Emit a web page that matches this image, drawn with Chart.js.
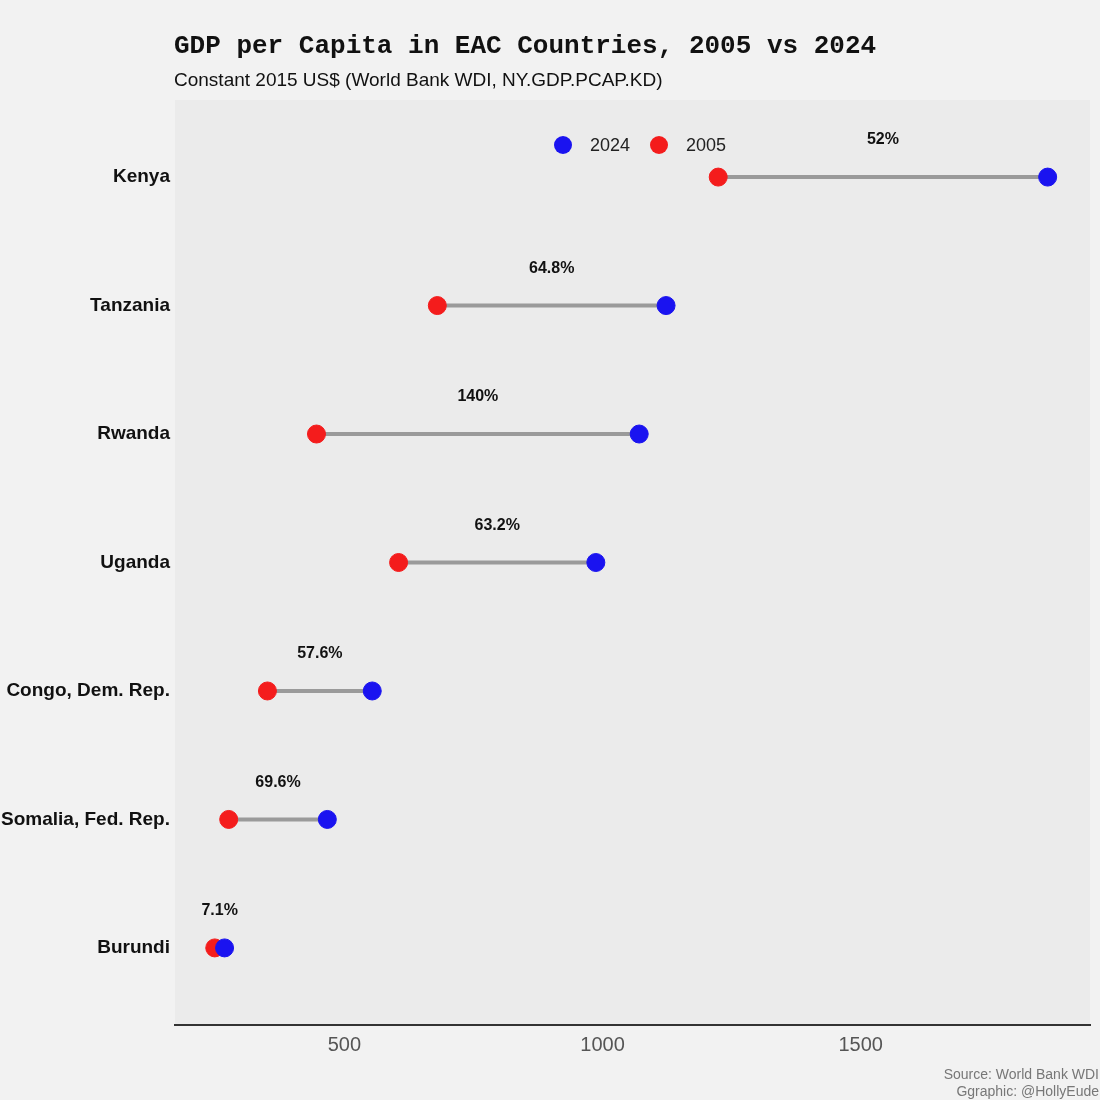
<!DOCTYPE html>
<html>
<head>
<meta charset="utf-8">
<script src="https://cdn.jsdelivr.net/npm/chart.js@4"></script>
<style>
  html, body { margin: 0; padding: 0; background: #f2f2f2; }
</style>
</head>
<body>
<canvas id="chart" width="1100" height="1100"></canvas>
<script>
const countries = ["Kenya", "Tanzania", "Rwanda", "Uganda", "Congo, Dem. Rep.", "Somalia, Fed. Rep.", "Burundi"];
const gdp2005 = [1224, 680, 446, 605, 351, 276, 249];
const gdp2024 = [1862, 1123, 1071, 987, 554, 467, 268];
const growthLabels = ["52%", "64.8%", "140%", "63.2%", "57.6%", "69.6%", "7.1%"];
const xTicks = [500, 1000, 1500];

const RED = "#f41c1c", BLUE = "#1a13f0";

// one grey segment per country
const segments = countries.map((c, i) => ({
  type: "line",
  data: [{ x: gdp2005[i], y: i }, { x: gdp2024[i], y: i }],
  borderColor: "#9a9a9a",
  borderWidth: 4,
  pointRadius: 0,
  order: 3
}));

const decor = {
  id: "decor",
  beforeDraw(chart) {
    const { ctx, chartArea: a } = chart;
    ctx.save();
    ctx.fillStyle = "#f2f2f2";
    ctx.fillRect(0, 0, chart.width, chart.height);
    ctx.fillStyle = "#ebebeb";
    ctx.fillRect(a.left, a.top, a.right - a.left, a.bottom - a.top);
    ctx.restore();
  },
  afterDatasetsDraw(chart) {
    const { ctx, scales: { x, y } } = chart;
    ctx.save();
    // growth labels above the segment midpoint
    ctx.fillStyle = "#111";
    ctx.font = "bold 16px 'Liberation Sans', Arial";
    ctx.textAlign = "center";
    ctx.textBaseline = "middle";
    countries.forEach((c, i) => {
      const mid = (gdp2005[i] + gdp2024[i]) / 2;
      ctx.fillText(growthLabels[i], x.getPixelForValue(mid), y.getPixelForValue(i) - 37);
    });
    // legend
    ctx.font = "18px 'Liberation Sans', Arial";
    ctx.textAlign = "left";
    [[BLUE, "2024", 563], [RED, "2005", 659]].forEach(([col, txt, px]) => {
      ctx.fillStyle = col;
      ctx.beginPath(); ctx.arc(px, 145, 9, 0, Math.PI * 2); ctx.fill();
      ctx.fillStyle = "#222";
      ctx.fillText(txt, px + 27, 146);
    });
    // titles
    ctx.fillStyle = "#111";
    ctx.font = "bold 26px 'Liberation Mono', 'DejaVu Sans Mono', monospace";
    ctx.fillText("GDP per Capita in EAC Countries, 2005 vs 2024", 174, 46);
    ctx.font = "19px 'Liberation Sans', Arial";
    ctx.fillText("Constant 2015 US$ (World Bank WDI, NY.GDP.PCAP.KD)", 174, 81);
    ctx.fillStyle = "#777";
    ctx.font = "14px 'Liberation Sans', Arial";
    ctx.textAlign = "right";
    ctx.fillText("Source: World Bank WDI", 1099, 1075);
    ctx.fillText("Ggraphic: @HollyEude", 1099, 1092);
    ctx.restore();
  }
};

new Chart(document.getElementById("chart"), {
  data: {
    datasets: [
      ...segments,
      {
        type: "scatter", label: "2005",
        data: countries.map((c, i) => ({ x: gdp2005[i], y: i })),
        backgroundColor: RED, borderColor: RED, pointRadius: 9, pointHoverRadius: 9, order: 2
      },
      {
        type: "scatter", label: "2024",
        data: countries.map((c, i) => ({ x: gdp2024[i], y: i })),
        backgroundColor: BLUE, borderColor: BLUE, pointRadius: 9, pointHoverRadius: 9, order: 1
      }
    ]
  },
  plugins: [decor],
  options: {
    responsive: false,
    devicePixelRatio: 1,
    animation: false,
    layout: { padding: { top: 100, right: -10, left: 0, bottom: 0 } },
    plugins: { legend: { display: false }, tooltip: { enabled: false } },
    scales: {
      x: {
        type: "linear", min: 172, max: 1944,
        afterBuildTicks: (s) => { s.ticks = xTicks.map(v => ({ value: v })); },
        afterFit: (s) => { s.height = 75; },
        grid: { display: false, drawTicks: false },
        border: { display: true, color: "#333", width: 2 },
        ticks: {
          color: "#555", font: { size: 20, family: "'Liberation Sans', Arial" }, padding: 8,
          callback: (v) => String(v)
        }
      },
      y: {
        type: "linear", min: -0.6, max: 6.6, reverse: true,
        afterBuildTicks: (s) => { s.ticks = countries.map((c, i) => ({ value: i })); },
        afterFit: (s) => { s.width = 175; },
        grid: { display: false, drawTicks: false },
        border: { display: false },
        ticks: {
          color: "#111", padding: 5,
          font: { size: 19, weight: "bold", family: "'Liberation Sans', Arial" },
          callback: (v) => countries[v]
        }
      }
    }
  }
});
</script>
</body>
</html>
